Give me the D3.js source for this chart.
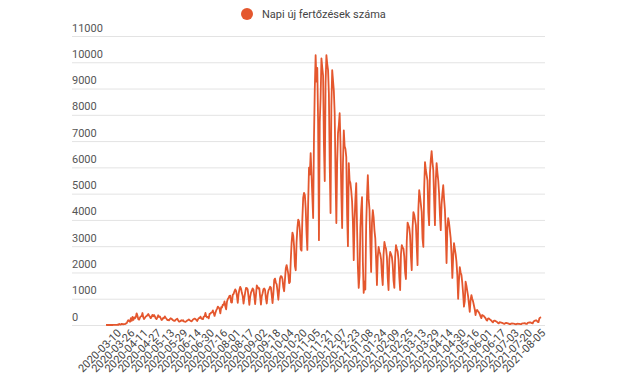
<!DOCTYPE html>
<html><head><meta charset="utf-8">
<script src="https://cdn.jsdelivr.net/npm/d3@7"></script>
<style>
body{margin:0;background:#fff;}
svg{display:block;font-family:Roboto,"Noto Sans",sans-serif;}
</style></head>
<body><svg id="c" width="635" height="385"></svg>
<script>
const seriesName = "Napi új fertőzések száma";
const startDate = "2020-02-26";
const endDate = "2021-08-05";
const missingDates = ["2021-07-10"];
const yTicks = [0,1000,2000,3000,4000,5000,6000,7000,8000,9000,10000,11000];
const xTicks = ["2020-03-10","2020-03-26","2020-04-11","2020-04-27","2020-05-13","2020-05-29","2020-06-14","2020-06-30","2020-07-16","2020-08-01","2020-08-17","2020-09-02","2020-09-18","2020-10-04","2020-10-20","2020-11-05","2020-11-21","2020-12-07","2020-12-23","2021-01-08","2021-01-24","2021-02-09","2021-02-25","2021-03-13","2021-03-29","2021-04-14","2021-04-30","2021-05-16","2021-06-01","2021-06-17","2021-07-03","2021-07-20","2021-08-05"];
// daily new cases, from 2020-02-26 (Wed), then weeks Mon..Sun
const newCases = [
1,0,2,0,0,
0,0,1,0,2,2,5,
2,2,11,4,40,16,19,
45,29,28,31,31,59,66,
143,186,144,123,263,160,308,
193,291,254,307,445,348,220,
203,280,332,336,456,290,227,
272,325,343,371,418,360,310,
260,313,386,333,380,327,254,
226,294,370,306,326,261,190,
200,272,264,328,275,237,188,
190,176,223,257,238,210,181,
159,157,199,213,240,178,133,
130,150,181,161,186,137,126,
120,143,169,188,211,184,163,
137,163,210,227,243,227,194,
152,214,262,264,320,252,233,
224,320,328,460,325,290,309,
250,420,432,475,484,555,457,
346,455,555,614,698,662,615,
440,682,664,777,767,898,713,
595,889,991,1030,1112,1119,871,
852,1151,1182,1284,1356,1295,1104,
842,1181,1345,1454,1378,1215,1101,
816,1041,1244,1415,1408,1350,1084,
769,1071,1232,1311,1392,1342,1098,
796,1150,1506,1452,1386,1402,1093,
772,1095,1209,1365,1391,1328,1001,
819,1136,1311,1378,1454,1432,1134,
830,1196,1713,1767,1616,1545,1276,
960,1333,1767,1862,1845,1739,1435,
1285,1737,2158,2282,2120,1945,1591,
1634,2470,3130,3517,3396,2983,2242,
2085,3152,3708,4013,3933,3599,2880,
2829,4063,4848,5028,4947,4444,3524,
2860,4651,5988,5723,6541,5753,4910,
4071,7095,9006,10269,9267,9785,7698,
3227,7733,8651,10149,9800,9489,6868,
5480,9200,10269,9940,9700,8800,6100,
4260,8350,9700,9300,8900,8040,5800,
3880,6200,7300,7600,8060,6900,5050,
3690,6150,7410,6800,6700,6390,4200,
3000,6160,5500,5400,5100,4700,3900,
2470,4000,4800,5400,3700,2200,1410,
1900,3700,4400,4870,2400,1220,1650,
1350,3800,4900,5700,4800,4400,3100,
2020,3900,4370,4100,3600,3300,2500,
1520,2600,2970,2800,2700,2500,1900,
1520,2700,3160,3000,2900,2600,1800,
1330,2500,2780,2700,2600,2300,1700,
1410,2600,3040,2900,2800,2500,1800,
1330,2700,3040,2950,2900,2600,2000,
1750,3200,3900,3800,3700,3400,2600,
2090,3700,4300,4200,4000,3800,3000,
2280,4400,5130,4900,4600,4300,3300,
2970,5200,6200,5900,5700,5500,4300,
3800,5800,6300,6620,6200,5900,4800,
3800,5500,6160,5800,5500,5000,4200,
3610,4600,5000,5320,4800,4400,3600,
2360,3700,4070,3900,3600,3300,2700,
1790,2600,3120,2900,2700,2400,1900,
1000,1700,2200,2000,1900,1600,1200,
700,900,1650,1500,1300,1100,800,
500,950,1140,1000,900,750,600,
380,560,570,520,480,420,330,
260,380,360,340,300,260,200,
170,240,250,220,200,170,130,
100,160,170,150,130,110,80,
60,110,100,90,80,70,50,
40,70,80,70,60,50,35,
30,55,60,55,50,45,30,
25,45,50,45,40,30,
30,55,60,65,70,60,45,
40,80,90,95,100,90,70,
60,130,150,170,180,160,120,
110,250,280,300
];

const fmt = d3.timeFormat("%Y-%m-%d");
const parse = d3.timeParse("%Y-%m-%d");
const dates = d3.timeDay.range(parse(startDate), d3.timeDay.offset(parse(endDate), 1))
  .map(fmt).filter(d => !missingDates.includes(d));
const data = dates.map((d, i) => ({date: d, value: newCases[i]})).filter(d => d.value !== undefined);

const svg = d3.select("#c");
const lineColor = "#e4572e";
const plotLeft = 72, plotRight = 545;

const x = d3.scalePoint().domain(dates).range([106, 541]);
const y = d3.scaleLinear().domain([0, 11000]).range([325, 36]);

// gridlines + y labels
const yAxis = svg.append("g").attr("transform", `translate(${plotLeft},0)`)
  .call(d3.axisRight(y).tickValues(yTicks).tickSize(plotRight - plotLeft).tickFormat(d3.format("d")));
yAxis.select(".domain").remove();
yAxis.selectAll(".tick line").attr("stroke", "#e3e3e3").attr("stroke-width", 1);
yAxis.selectAll(".tick text").attr("x", 0).attr("dy", -5).attr("text-anchor", "start")
  .attr("fill", "#555").style("font-size", "11px").style("font-family", "Roboto, sans-serif");

// x axis labels
const xAxis = svg.append("g").attr("transform", "translate(0,327)")
  .call(d3.axisBottom(x).tickValues(xTicks).tickSize(0));
xAxis.select(".domain").remove();
xAxis.selectAll(".tick text")
  .attr("text-anchor", "end").attr("fill", "#444")
  .attr("transform", "translate(2,4) rotate(-45)").attr("dy", "0.35em").attr("y", 0)
  .style("font-size", "11px").style("font-family", "Roboto, sans-serif");

// line
svg.append("path").datum(data)
  .attr("fill", "none").attr("stroke", lineColor).attr("stroke-width", 1.8)
  .attr("stroke-linejoin", "round")
  .attr("d", d3.line().x(d => x(d.date)).y(d => y(d.value)));

// legend
const lg = svg.append("g");
lg.append("circle").attr("cx", 247).attr("cy", 14).attr("r", 6).attr("fill", lineColor);
lg.append("text").attr("x", 262).attr("y", 18).text(seriesName)
  .attr("fill", "#444").style("font-size", "11px");
</script></body></html>
